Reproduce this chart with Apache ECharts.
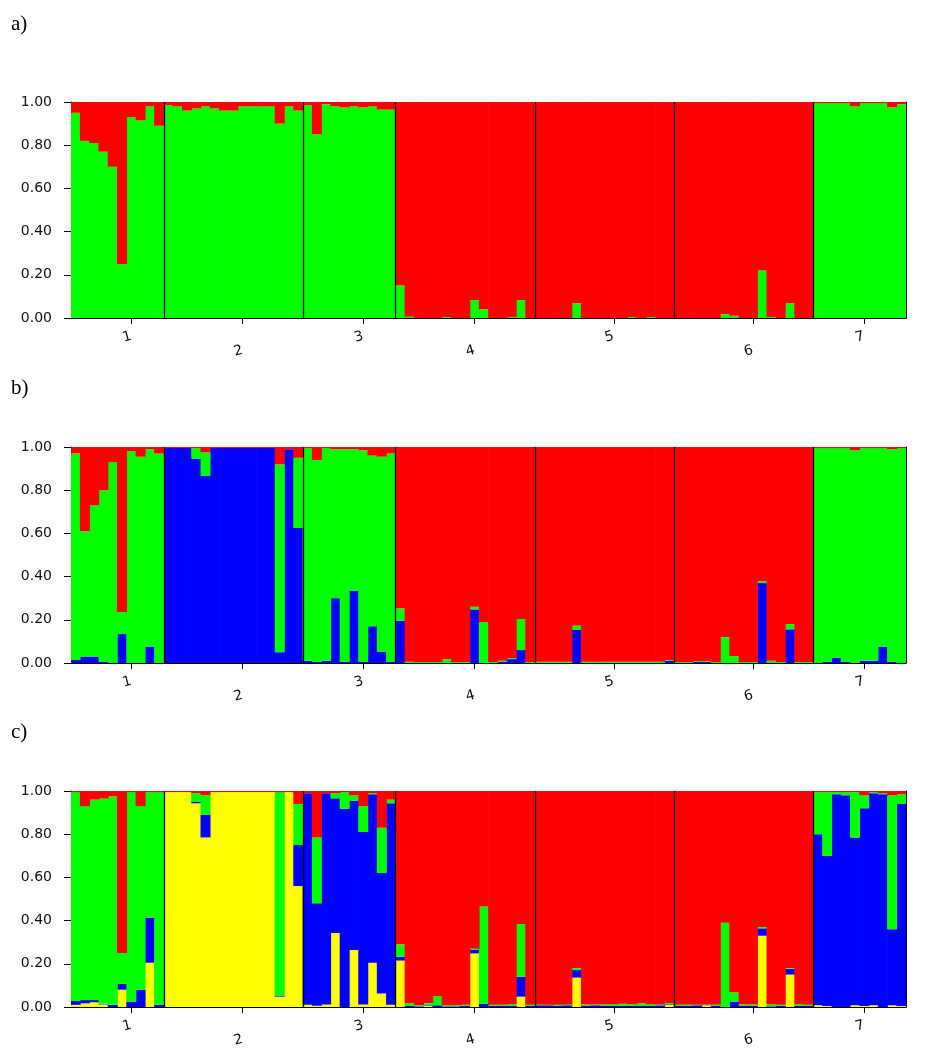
<!DOCTYPE html>
<html>
<head>
<meta charset="utf-8">
<script src="https://cdn.jsdelivr.net/npm/echarts@6/dist/echarts.min.js"></script>
<style>
  html, body { margin: 0; padding: 0; background: #fff; }
  #main { width: 929px; height: 1049px; }
</style>
</head>
<body>
<div id="main"></div>
<script>
// populations and their sizes (individuals per population)
var popNames = ['1', '2', '3', '4', '5', '6', '7'];
var popSizes = [10, 15, 10, 15, 15, 15, 10];
// individual under each population label
var popTicks = [6, 18, 31, 43, 58, 73, 85];
var yTicks = [0, 0.2, 0.4, 0.6, 0.8, 1.0];
var panelNames = ['a)', 'b)', 'c)'];

// a) K=2 : green share (red is the rest)
var aGreen = [
  0.95, 0.82, 0.81, 0.77, 0.70, 0.25, 0.93, 0.915, 0.98, 0.89,
  0.985, 0.98, 0.96, 0.97, 0.98, 0.97, 0.96, 0.96, 0.98, 0.98, 0.98, 0.98, 0.90, 0.98, 0.96,
  0.985, 0.85, 0.99, 0.98, 0.975, 0.98, 0.975, 0.98, 0.965, 0.965,
  0.15, 0.006, 0, 0, 0, 0.005, 0, 0, 0.083, 0.04, 0, 0, 0.005, 0.083, 0,
  0, 0, 0, 0, 0.068, 0, 0, 0, 0, 0, 0.005, 0, 0.005, 0, 0,
  0, 0, 0, 0, 0, 0.018, 0.01, 0, 0, 0.22, 0.005, 0, 0.068, 0, 0,
  0.995, 0.995, 0.995, 0.995, 0.98, 0.995, 0.995, 0.995, 0.975, 0.99
];

// b) K=3 : blue (bottom), green (middle), red is the rest
var bBlue = [
  0.014, 0.03, 0.03, 0.006, 0, 0.134, 0, 0, 0.076, 0,
  0.995, 0.995, 0.995, 0.945, 0.867, 0.995, 0.995, 0.995, 0.995, 0.995, 0.995, 0.995, 0.05, 0.99, 0.625,
  0.01, 0.005, 0.01, 0.30, 0.005, 0.335, 0.005, 0.17, 0.052, 0.005,
  0.196, 0, 0, 0, 0, 0, 0, 0, 0.248, 0, 0, 0.005, 0.018, 0.06, 0,
  0, 0, 0, 0, 0.153, 0, 0, 0, 0, 0, 0, 0, 0, 0, 0.01,
  0, 0, 0.005, 0.005, 0, 0, 0, 0, 0, 0.37, 0, 0, 0.156, 0, 0,
  0, 0.005, 0.025, 0.005, 0, 0.01, 0.01, 0.076, 0.005, 0
];
var bGreen = [
  0.956, 0.58, 0.70, 0.794, 0.93, 0.102, 0.98, 0.955, 0.914, 0.97,
  0, 0, 0, 0.05, 0.108, 0, 0, 0, 0, 0, 0, 0, 0.87, 0, 0.325,
  0.985, 0.935, 0.985, 0.69, 0.985, 0.655, 0.98, 0.79, 0.903, 0.965,
  0.057, 0.006, 0.005, 0.005, 0.005, 0.017, 0.005, 0.005, 0.012, 0.19, 0.005, 0.005, 0.005, 0.144, 0.005,
  0.006, 0.006, 0.006, 0.006, 0.021, 0.006, 0.006, 0.006, 0.006, 0.006, 0.006, 0.006, 0.006, 0.006, 0.004,
  0.005, 0.005, 0.003, 0.003, 0.005, 0.12, 0.032, 0.005, 0.005, 0.008, 0.01, 0.005, 0.024, 0.005, 0.005,
  0.995, 0.99, 0.97, 0.99, 0.985, 0.985, 0.985, 0.919, 0.985, 0.995
];

// c) K=4 : yellow (bottom), blue, green, red is the rest
var cYellow = [
  0.01, 0.017, 0.022, 0.012, 0, 0.08, 0, 0, 0.205, 0,
  0.995, 0.995, 0.995, 0.943, 0.785, 0.995, 0.995, 0.995, 0.995, 0.995, 0.995, 0.995, 0.048, 0.995, 0.56,
  0.01, 0.006, 0.012, 0.343, 0, 0.264, 0.012, 0.205, 0.062, 0.01,
  0.215, 0, 0, 0.005, 0, 0, 0, 0, 0.248, 0, 0, 0, 0, 0.048, 0,
  0, 0, 0, 0, 0.136, 0, 0, 0, 0, 0, 0, 0, 0, 0, 0.01,
  0, 0, 0, 0.008, 0, 0, 0, 0, 0, 0.33, 0, 0, 0.15, 0, 0,
  0.008, 0.005, 0, 0, 0.008, 0.005, 0.008, 0, 0.008, 0.005
];
var cBlue = [
  0.018, 0.015, 0.01, 0.003, 0.01, 0.027, 0.025, 0.08, 0.209, 0.01,
  0, 0, 0, 0.008, 0.105, 0, 0, 0, 0, 0, 0, 0, 0.005, 0, 0.19,
  0.98, 0.474, 0.978, 0.623, 0.917, 0.69, 0.798, 0.78, 0.558, 0.933,
  0.018, 0.005, 0.003, 0.003, 0.008, 0.003, 0.003, 0.005, 0.016, 0.015, 0.005, 0.005, 0.005, 0.092, 0.005,
  0.008, 0.008, 0.005, 0.008, 0.035, 0.005, 0.008, 0.005, 0.005, 0.005, 0.005, 0.005, 0.005, 0.008, 0.003,
  0.005, 0.005, 0.008, 0.002, 0.005, 0, 0.025, 0.005, 0.005, 0.034, 0.003, 0.005, 0.027, 0.005, 0.005,
  0.792, 0.695, 0.985, 0.98, 0.777, 0.915, 0.982, 0.985, 0.352, 0.935
];
var cGreen = [
  0.967, 0.898, 0.928, 0.95, 0.965, 0.143, 0.97, 0.85, 0.581, 0.985,
  0, 0, 0, 0.039, 0.09, 0, 0, 0, 0, 0, 0, 0, 0.942, 0, 0.19,
  0, 0.305, 0, 0.024, 0.078, 0.026, 0.12, 0.005, 0.21, 0.017,
  0.057, 0.012, 0.005, 0.01, 0.042, 0.005, 0.005, 0.005, 0.006, 0.45, 0.005, 0.005, 0.008, 0.244, 0.005,
  0.004, 0.002, 0.005, 0.004, 0.009, 0.006, 0.003, 0.006, 0.008, 0.01, 0.008, 0.012, 0.008, 0.004, 0.005,
  0.005, 0.005, 0.002, 0.002, 0.005, 0.39, 0.043, 0.006, 0.006, 0.006, 0.01, 0.005, 0.003, 0.008, 0.005,
  0.195, 0.295, 0.01, 0.015, 0.21, 0.06, 0.005, 0.005, 0.62, 0.045
];

var RED = '#FF0000', GREEN = '#00FF00', BLUE = '#0000FF', YELLOW = '#FFFF00';

// individual ids and population boundaries
var ids = [];
var popStart = [];
var n = 0;
for (var p = 0; p < popSizes.length; p++) {
  popStart.push(n);
  for (var j = 0; j < popSizes[p]; j++) ids.push(String(n + 1 + j));
  n += popSizes[p];
}
var bounds = popStart.slice(1);

// red = what is left to reach 1
function rest(parts) {
  return ids.map(function (_, i) {
    var s = 0;
    parts.forEach(function (a) { s += a[i]; });
    return Math.max(0, +(1 - s).toFixed(3));
  });
}

var panels = [
  [{ name: 'green', color: GREEN, data: aGreen }],
  [{ name: 'blue', color: BLUE, data: bBlue }, { name: 'green', color: GREEN, data: bGreen }],
  [{ name: 'yellow', color: YELLOW, data: cYellow }, { name: 'blue', color: BLUE, data: cBlue }, { name: 'green', color: GREEN, data: cGreen }]
];
panels.forEach(function (layers) {
  layers.push({ name: 'red', color: RED, data: rest(layers.map(function (l) { return l.data; })) });
});

var gridTops = [102, 447, 791];
var titleTops = [9, 373, 717];
var labelFont = { fontFamily: 'DejaVu Sans', fontSize: 14, color: '#111' };

var option = {
  animation: false,
  backgroundColor: '#fff',
  title: [], grid: [], xAxis: [], yAxis: [], series: []
};

gridTops.forEach(function (top, g) {
  option.title.push({
    text: panelNames[g], left: 6, top: titleTops[g],
    textStyle: { fontFamily: 'Liberation Serif', fontSize: 21, fontWeight: 'normal', color: '#000' }
  });
  option.grid.push({ left: 71, top: top, width: 835, height: 216 });

  var xBase = option.xAxis.length;
  // main category axis (bars)
  option.xAxis.push({
    type: 'category', gridIndex: g, data: ids, boundaryGap: true,
    axisLine: { lineStyle: { color: '#000', width: 1 } },
    axisTick: { show: false }, axisLabel: { show: false }
  });
  // ticks + labels of populations 1,3,5,7
  option.xAxis.push({
    type: 'category', gridIndex: g, data: ids, position: 'bottom',
    axisLine: { show: false },
    axisTick: {
      show: true, alignWithLabel: true, length: 6,
      lineStyle: { color: '#000' },
      interval: function (i) { return popTicks.indexOf(i) >= 0; }
    },
    axisLabel: Object.assign({
      show: true, rotate: 15, margin: 18,
      interval: function (i) { var k = popTicks.indexOf(i); return k >= 0 && k % 2 === 0; },
      formatter: function (v, i) { return popNames[popTicks.indexOf(i)]; }
    }, labelFont)
  });
  // labels of populations 2,4,6 (lower row)
  option.xAxis.push({
    type: 'category', gridIndex: g, data: ids, position: 'bottom',
    axisLine: { show: false }, axisTick: { show: false },
    axisLabel: Object.assign({
      show: true, rotate: 15, margin: 32,
      interval: function (i) { var k = popTicks.indexOf(i); return k >= 0 && k % 2 === 1; },
      formatter: function (v, i) { return popNames[popTicks.indexOf(i)]; }
    }, labelFont)
  });
  // hidden value axis for population separators
  option.xAxis.push({ type: 'value', gridIndex: g, min: 0, max: n, show: false });

  var yBase = option.yAxis.length;
  option.yAxis.push({
    type: 'value', gridIndex: g, min: 0, max: 1, interval: 0.2,
    axisLine: { show: true, lineStyle: { color: '#000' } },
    axisTick: { show: true, length: 7, lineStyle: { color: '#000' } },
    axisLabel: Object.assign({
      margin: 19,
      formatter: function (v) { return yTicks.indexOf(+v.toFixed(1)) >= 0 ? v.toFixed(2) : ''; }
    }, labelFont),
    splitLine: { show: false }
  });
  // right frame line
  option.yAxis.push({
    type: 'value', gridIndex: g, min: 0, max: 1, position: 'right',
    axisLine: { show: true, lineStyle: { color: '#000' } },
    axisTick: { show: false }, axisLabel: { show: false }, splitLine: { show: false }
  });

  panels[g].forEach(function (layer) {
    option.series.push({
      type: 'bar', name: layer.name, stack: 'q' + g,
      xAxisIndex: xBase, yAxisIndex: yBase,
      barWidth: 10,
      itemStyle: { color: layer.color, borderWidth: 0 },
      data: layer.data
    });
  });

  option.series.push({
    type: 'line', xAxisIndex: xBase + 3, yAxisIndex: yBase, data: [],
    markLine: {
      silent: true, symbol: ['none', 'none'], label: { show: false },
      lineStyle: { color: '#000', type: 'solid', width: 1.3 },
      data: bounds.map(function (b) { return { xAxis: b }; })
    }
  });
});

var chart = echarts.init(document.getElementById('main'), null, { renderer: 'canvas' });
chart.setOption(option);
</script>
</body>
</html>
